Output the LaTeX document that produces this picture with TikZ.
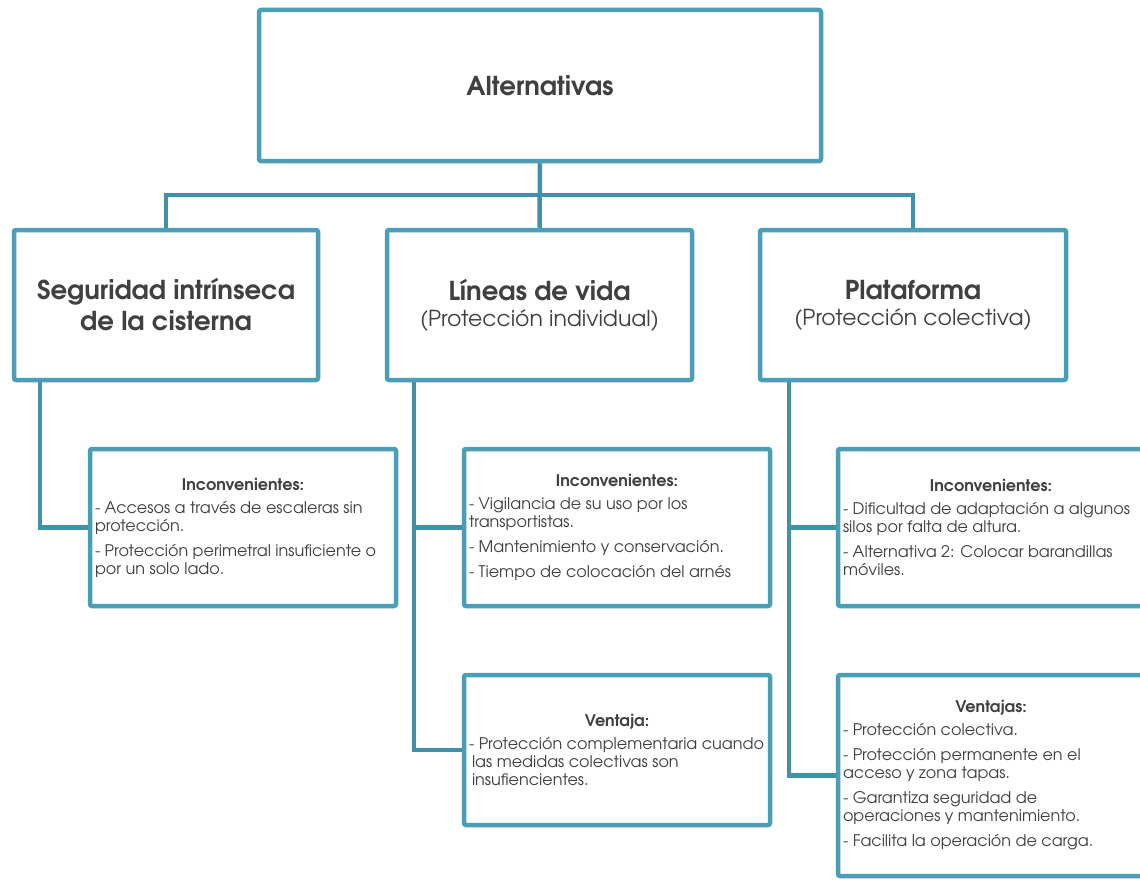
\documentclass[tikz,border=0pt]{standalone}
\usepackage{fontspec}
\setmainfont{texgyreadventor}[Extension=.otf, UprightFont=*-regular, BoldFont=*-bold, ItalicFont=*-italic, BoldItalicFont=*-bolditalic]
\definecolor{boxc}{HTML}{4A9EB6}
\definecolor{linec}{HTML}{4192A8}
\definecolor{textc}{HTML}{404040}
\newcommand{\bodyfont}{\fontsize{16}{18}\selectfont}
\newcommand{\itemgap}{\par\vspace{7pt}}
\newcommand{\childtext}[2]{\begin{minipage}{296pt}\centering\bfseries\fontsize{16}{18}\selectfont #1\par\vspace{5pt}\raggedright\mdseries\bodyfont #2\par\end{minipage}}
\begin{document}
\begin{tikzpicture}[x=1pt,y=-1pt,
  box/.style={draw=boxc, line width=4.5pt, rounded corners=2pt, fill=white, inner sep=0pt, text=textc},
  conn/.style={draw=linec, line width=4.5pt}]
\clip (0,0) rectangle (1140,880);
\fill[white] (0,0) rectangle (1140,880);
\coordinate (bus) at (540,195);
% nodes
\node[box, minimum width=562, minimum height=151] (top) at (540,85.5) {\bfseries\fontsize{26}{30}\selectfont Alternativas};
\node[box, minimum width=304, minimum height=150, align=center, font=\bfseries\fontsize{26}{30}\selectfont] (a) at (166,305) {Seguridad intrínseca\\[1pt]de la cisterna};
\node[box, minimum width=305, minimum height=150, align=center, font=\fontsize{26}{30}\selectfont] (b) at (539.5,305) {\textbf{Líneas de vida}\\[-4pt]\fontsize{22}{26}\selectfont (Protección individual)};
\node[box, minimum width=306, minimum height=150, align=center, font=\fontsize{26}{30}\selectfont] (c) at (913,305) {\textbf{Plataforma}\\[-4pt]\fontsize{22}{26}\selectfont (Protección colectiva)};
\node[box, minimum width=306, minimum height=157] (a1) at (243,527.5) {\childtext{Inconvenientes:}{- Accesos a través de escaleras sin\\protección.\itemgap - Protección perimetral insuficiente o\\por un solo lado.}};
\node[box, minimum width=306, minimum height=157] (b1) at (617,527.5) {\childtext{Inconvenientes:}{- Vigilancia de su uso por los\\transportistas.\itemgap - Mantenimiento y conservación.\itemgap - Tiempo de colocación del arnés}};
\node[box, minimum width=306, minimum height=150] (b2) at (617,750) {\childtext{Ventaja:}{- Protección complementaria cuando\\\hspace*{3pt}las medidas colectivas son\\\hspace*{3pt}insufiencientes.}};
\node[box, minimum width=306, minimum height=157] (c1) at (991,527.5) {\childtext{Inconvenientes:}{- Dificultad de adaptación a algunos\\silos por falta de altura.\itemgap - Alternativa 2: Colocar barandillas\\móviles.}};
\node[box, minimum width=306, minimum height=201] (c2) at (991,775.5) {\childtext{Ventajas:}{- Protección colectiva.\itemgap - Protección permanente en el\\acceso y zona tapas.\itemgap - Garantiza seguridad de\\operaciones y mantenimiento.\itemgap - Facilita la operación de carga.}};
% connectors
\draw[conn] (top.south) -- (b.north);
\draw[conn] (a.north) |- (bus) -| (c.north);
\draw[conn] ([xshift=28pt]a.south west) |- (a1.west);
\draw[conn] ([xshift=29pt]b.south west) |- (b1.west);
\draw[conn] ([xshift=29pt]b.south west) |- (b2.west);
\draw[conn] ([xshift=31pt]c.south west) |- (c1.west);
\draw[conn] ([xshift=31pt]c.south west) |- (c2.west);
\end{tikzpicture}
\end{document}
